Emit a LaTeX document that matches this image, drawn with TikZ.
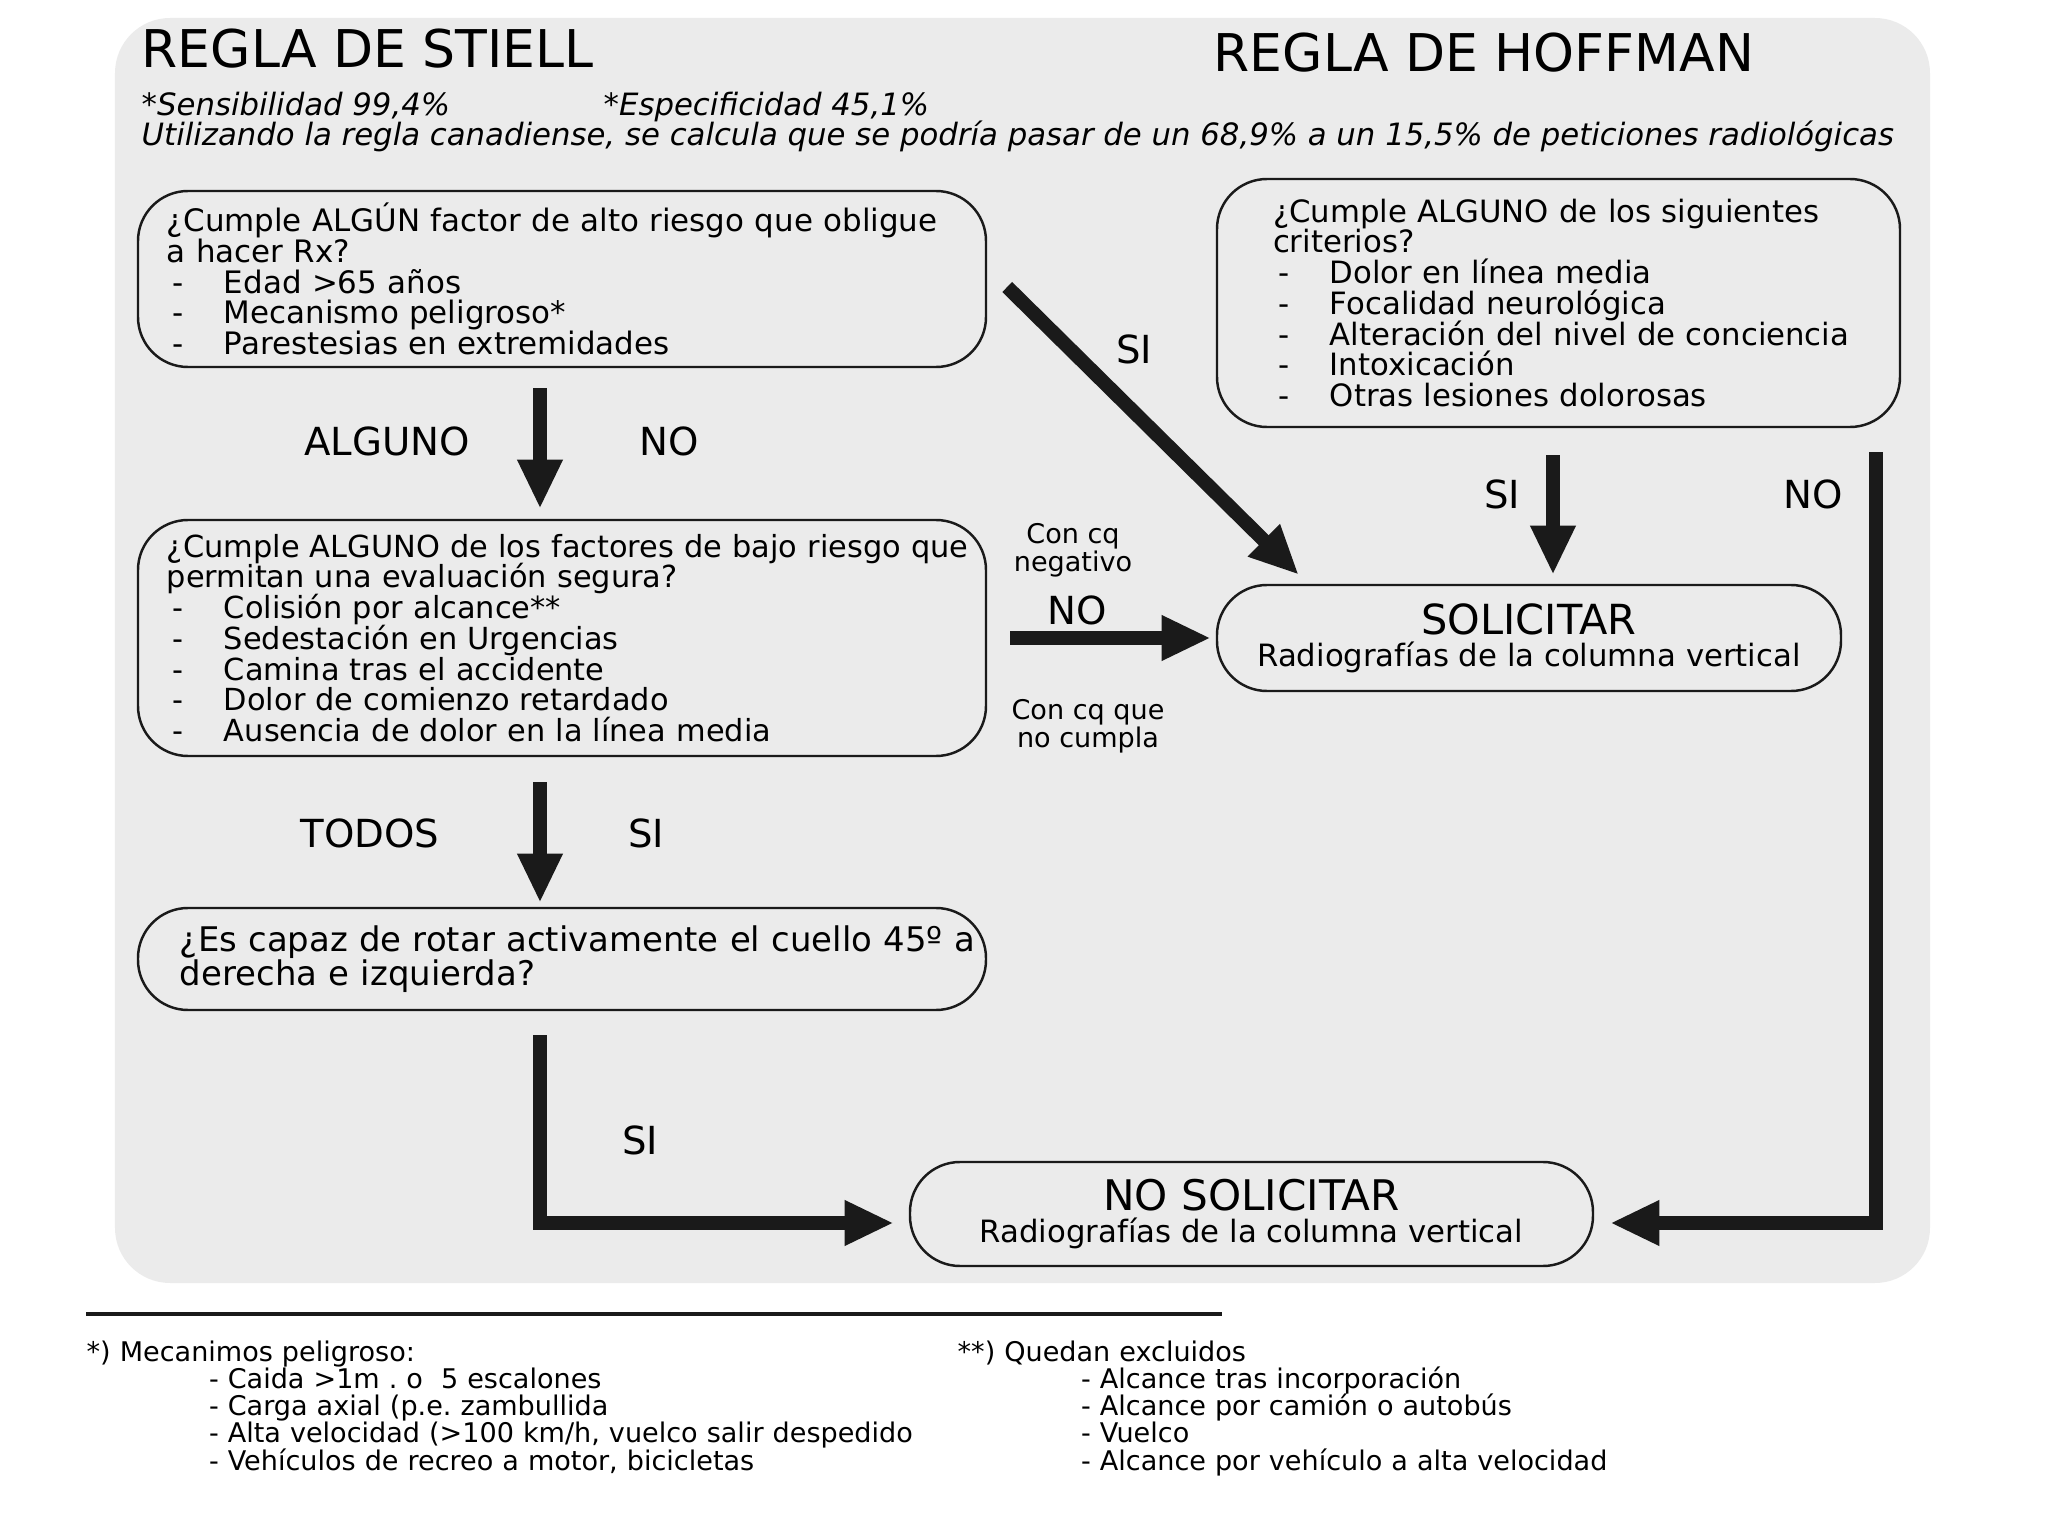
\documentclass[tikz,border=0pt]{standalone}
\usepackage{fontspec}
\setmainfont{DejaVu Sans}
\usepackage{tikz}
\usetikzlibrary{arrows.meta, positioning}

\definecolor{fondo}{HTML}{EBEBEB}
\definecolor{tinta}{HTML}{1A1A1A}
\newcommand{\guion}{\hspace*{1.6pt}\makebox[14.6pt][l]{-}}
\newcommand{\bloque}[2]{\leftskip=#1\relax\lineskiplimit=-10pt\relax #2\par}

\begin{document}
\begin{tikzpicture}[
  caja/.style={draw=tinta, line width=0.7pt, rounded corners=0.5cm, fill=fondo, align=left, inner xsep=0pt, font=\fontsize{8.75}{8.75}\selectfont},
  fin/.style={draw=tinta, line width=0.7pt, rounded corners=0.5cm, fill=fondo, align=center, font=\fontsize{11.8}{9}\selectfont},
  flecha/.style={-{Triangle[width=12pt,length=14pt]}, line width=4pt, draw=tinta},
  titulo/.style={inner sep=0pt, font=\fontsize{14.8}{16}\selectfont},
  cursiva/.style={inner sep=0pt, font=\fontsize{8.75}{9}\selectfont\itshape},
  etiq/.style={font=\fontsize{11}{13}\selectfont},
  chica/.style={font=\fontsize{7.7}{8}\selectfont, align=center},
  nota/.style={inner sep=0pt, anchor=north west, align=left, text width=8.6cm, font=\fontsize{7.7}{7.75}\selectfont}
]
\useasboundingbox (0,0) rectangle (20.48,-15.36);
\fill[fondo, rounded corners=0.55cm] (1.15,-0.18) rectangle (19.30,-12.83);

% encabezado
\node[titulo, anchor=base west] (stiell) at (1.41,-0.68) {REGLA DE STIELL};
\node[titulo, anchor=base] (hoffman) at (14.84,-0.72) {REGLA DE HOFFMAN};
\node[cursiva, anchor=base west] (sens) at (1.41,-1.16) {*Sensibilidad 99,4\%};
\node[cursiva, anchor=base west] (espec) at (6.03,-1.16) {*Especificidad 45,1\%};
\node[cursiva, anchor=base west] (util) at (1.41,-1.46) {Utilizando la regla canadiense, se calcula que se podría pasar de un 68,9\% a un 15,5\% de peticiones radiológicas};

% cajas
\node[caja, text width=8.48cm, minimum height=1.76cm, font=\fontsize{8.8}{8.7}\selectfont] (alto) at (5.62,-2.79) {\bloque{0.29cm}{¿Cumple ALGÚN factor de alto riesgo que obligue\\a hacer Rx?\\\guion Edad >65 años\\\guion Mecanismo peligroso*\\\guion Parestesias en extremidades}};
\node[caja, text width=8.48cm, minimum height=2.36cm, font=\fontsize{8.65}{8.75}\selectfont] (bajo) at (5.62,-6.38) {\bloque{0.29cm}{¿Cumple ALGUNO de los factores de bajo riesgo que\\permitan una evaluación segura?\\\guion Colisión por alcance**\\\guion Sedestación en Urgencias\\\guion Camina tras el accidente\\\guion Dolor de comienzo retardado\\\guion Ausencia de dolor en la línea media}};
\node[caja, text width=8.48cm, minimum height=1.02cm, font=\fontsize{9.65}{9.7}\selectfont] (rotar) at (5.62,-9.59) {\bloque{0.42cm}{¿Es capaz de rotar activamente el cuello 45º a\\derecha e izquierda?}};
\node[caja, text width=6.83cm, minimum height=2.48cm] (hoff) at (15.585,-3.03) {\bloque{0.56cm}{¿Cumple ALGUNO de los siguientes\\criterios?\\\guion Dolor en línea media\\\guion Focalidad neurológica\\\guion Alteración del nivel de conciencia\\\guion Intoxicación\\\guion Otras lesiones dolorosas}};
\node[fin, minimum width=6.24cm, minimum height=1.06cm] (solicitar) at (15.29,-6.38) {SOLICITAR\\{\fontsize{8.75}{9}\selectfont Radiografías de la columna vertical}};
\node[fin, minimum width=6.83cm, minimum height=1.04cm, font=\fontsize{12}{9}\selectfont] (nosolicitar) at (12.515,-12.14) {NO SOLICITAR\\{\fontsize{8.75}{9}\selectfont Radiografías de la columna vertical}};

% flechas
\draw[flecha, shorten <=0.2cm, shorten >=0.1cm] ([xshift=-0.22cm]alto.south) -- ([xshift=-0.22cm]bajo.north);
\draw[flecha, shorten <=0.25cm, shorten >=0.04cm] ([xshift=-0.22cm]bajo.south) -- ([xshift=-0.22cm]rotar.north);
\draw[flecha, shorten <=0.24cm, shorten >=0.15cm] ([xshift=-0.22cm]rotar.south) |- ([yshift=-0.09cm]nosolicitar.west);
\draw[flecha] ([shift={(0.2,-0.08)}]alto.east) -- ([shift={(0.83,0.09)}]solicitar.north west);
\draw[flecha, shorten <=0.23cm, shorten >=0.05cm] (bajo.east) -- (bajo.east -| solicitar.west);
\draw[flecha, shorten <=0.27cm, shorten >=0.09cm] ([xshift=-0.055cm]hoff.south) -- ([xshift=-0.055cm]hoff.south |- solicitar.north);
\draw[flecha, shorten <=0.24cm, shorten >=0.16cm] ([xshift=-0.25cm]hoff.south east) |- ([yshift=-0.09cm]nosolicitar.east);

% etiquetas
\node[etiq] (lalguno) at (3.87,-4.41) {ALGUNO};
\node[etiq] (lno1) at (6.69,-4.41) {NO};
\node[etiq] (ltodos) at (3.70,-8.33) {TODOS};
\node[etiq] (lsi1) at (6.46,-8.33) {SI};
\node[etiq] (lsi2) at (6.40,-11.40) {SI};
\node[etiq] (lsi3) at (11.34,-3.49) {SI};
\node[chica] (lneg) at (10.73,-5.50) {Con cq\\negativo};
\node[etiq] (lno2) at (10.77,-6.10) {NO};
\node[chica] (lcumpla) at (10.88,-7.26) {Con cq que\\no cumpla};
\node[etiq] (lsi4) at (15.02,-4.94) {SI};
\node[etiq] (lno3) at (18.13,-4.94) {NO};

% notas
\draw[line width=1.1pt, tinta] (0.86,-13.14) -- (12.22,-13.14);
\node[nota] (nota1) at (0.86,-13.40) {\bloque{0pt}{*) Mecanimos peligroso:\\
  \hspace*{34.8pt}- Caida >1m .\ o\ \ 5 escalones\\
  \hspace*{34.8pt}- Carga axial (p.e.\ zambullida\\
  \hspace*{34.8pt}- Alta velocidad (>100 km/h, vuelco salir despedido\\
  \hspace*{34.8pt}- Vehículos de recreo a motor, bicicletas}};
\node[nota] (nota2) at (9.57,-13.40) {\bloque{0pt}{**) Quedan excluidos\\
  \hspace*{35.1pt}- Alcance tras incorporación\\
  \hspace*{35.1pt}- Alcance por camión o autobús\\
  \hspace*{35.1pt}- Vuelco\\
  \hspace*{35.1pt}- Alcance por vehículo a alta velocidad}};
\end{tikzpicture}
\end{document}
